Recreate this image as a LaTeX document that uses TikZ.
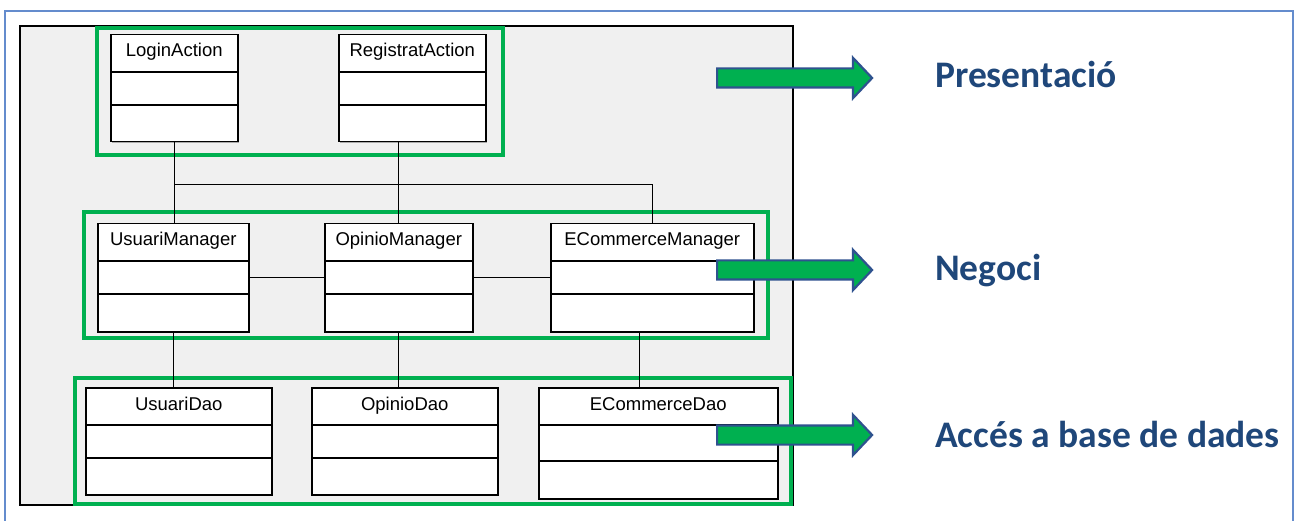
\documentclass[tikz,border=0pt]{standalone}
\usepackage{fontspec}
\setmainfont{Liberation Sans}
\newfontfamily\tierfont{Carlito}
\usetikzlibrary{shapes.arrows,shadows}
\definecolor{layergreen}{RGB}{0,176,80}
\definecolor{tierblue}{RGB}{31,71,122}
\definecolor{arrowblue}{RGB}{47,82,143}
\definecolor{frameblue}{RGB}{100,140,205}
\definecolor{panelgray}{RGB}{240,240,240}
\begin{document}
\begin{tikzpicture}[
		x=1pt, y=-1pt,
		umlclass/.style={draw, line width=1.5pt, fill=white, anchor=north west, inner sep=0pt,
				font=\fontsize{18.5}{22}\selectfont, text height=22pt, text depth=86pt,
				drop shadow={shadow xshift=1.5pt, shadow yshift=-1.5pt, fill=black!60, opacity=0.5}},
		layerframe/.style={draw=layergreen, line width=3.5pt},
		tierarrow/.style={single arrow, draw=arrowblue, fill=layergreen, line width=2.2pt,
				inner sep=0pt, inner ysep=8.5pt, single arrow head extend=10.5pt,
				single arrow tip angle=93, minimum height=155pt, anchor=west},
		tiername/.style={font=\tierfont\bfseries\fontsize{37.5}{44}\selectfont, text=tierblue,
				anchor=base west, inner sep=0pt},
		wire/.style={line width=1.3pt}
	]
	\useasboundingbox (0,0) rectangle (1295,521);
	\draw[frameblue, line width=1.5pt] (5,521) |- (1293,11) -- (1293,521);
	\draw[line width=1.3pt, fill=panelgray] (20,26) rectangle (793,505);

	% layers
	\draw[layerframe] (97,28) rectangle (503,155);
	\draw[layerframe] (84,212) rectangle (768,338);
	\draw[layerframe] (75,378) rectangle (791,504);

	% classes
	\node[umlclass, minimum width=127pt, text depth=85pt] (login) at (110,34) {LoginAction};
	\node[umlclass, minimum width=147pt, text depth=85pt] (reg) at (338,34) {RegistratAction};
	\node[umlclass, minimum width=151pt] (um) at (97,223) {UsuariManager};
	\node[umlclass, minimum width=148pt] (om) at (324,223) {OpinioManager};
	\node[umlclass, minimum width=203pt] (ecm) at (550,223) {ECommerceManager};
	\node[umlclass, minimum width=186pt, text height=23pt, text depth=84pt] (ud) at (85,387) {UsuariDao};
	\node[umlclass, minimum width=186pt, text height=23pt, text depth=84pt] (od) at (311,387) {OpinioDao};
	\node[umlclass, minimum width=239pt, text height=23pt, text depth=88pt] (ecd) at (538,387) {ECommerceDao};
	\foreach \c in {login,reg,um,om,ecm,ud,od}
		\draw[line width=1.5pt] ([yshift=-38pt]\c.north west) -- ([yshift=-38pt]\c.north east)
			([yshift=-71pt]\c.north west) -- ([yshift=-71pt]\c.north east);
	\draw[line width=1.5pt] ([yshift=-38pt]ecd.north west) -- ([yshift=-38pt]ecd.north east)
		([yshift=-74pt]ecd.north west) -- ([yshift=-74pt]ecd.north east);

	% wires
	\path (login.south) ++(0,42) coordinate (bus);
	\draw[wire] (login.south) -- (login.south |- um.north);
	\draw[wire] (bus) -| (ecm.north);
	\draw[wire] (om.north |- reg.south) -- (om.north);
	\draw[wire] (um.east) -- (om.west);
	\draw[wire] (om.east) -- (ecm.west);
	\draw[wire] (um.south) -- (um.south |- ud.north);
	\draw[wire] (om.south) -- (om.south |- od.north);
	\draw[wire] ([xshift=-13pt]ecm.south) -- ([xshift=-13pt]ecm.south |- ecd.north);

	% tiers
	\node[tierarrow] (presarrow) at (716,78) {};
	\node[tierarrow] (negarrow) at (716,270) {};
	\node[tierarrow] (daoarrow) at (716,435) {};
	\node[tiername] (pres) at (935,88) {Presentació};
	\node[tiername] (neg) at (935,280) {Negoci};
	\node[tiername] (dao) at (935,447) {Accés a base de dades};
\end{tikzpicture}
\end{document}
